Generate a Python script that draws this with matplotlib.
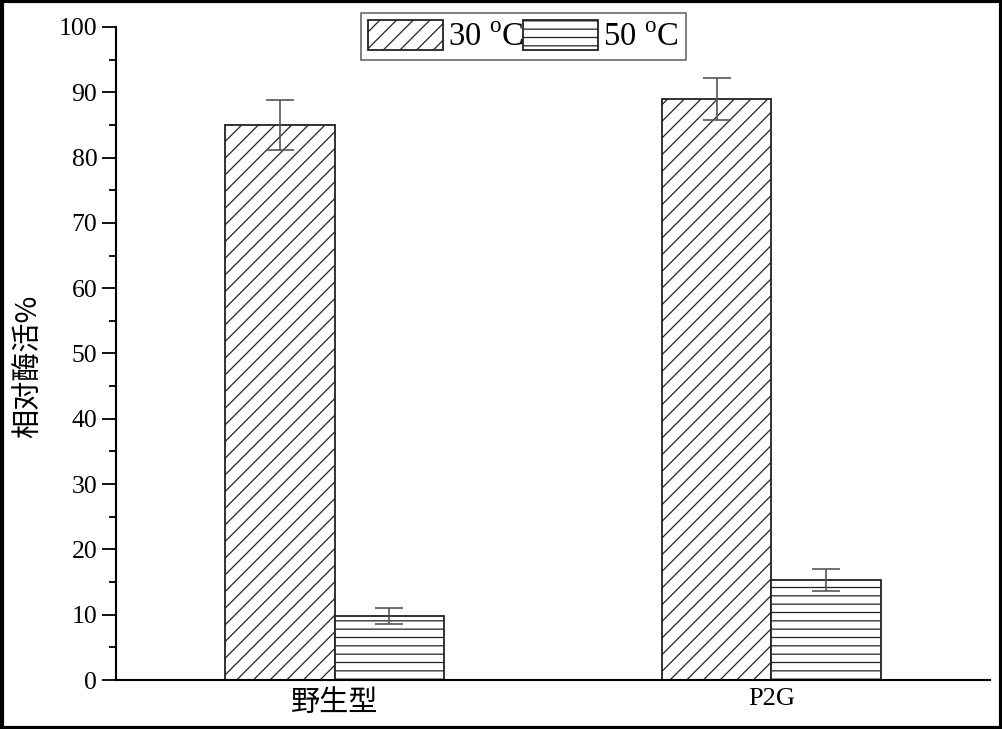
import numpy as np
import matplotlib.pyplot as plt
from matplotlib.patches import Rectangle

# 数据
categories = ['野生型', 'P2G']
series_labels = ['30 $^{\\rm o}$C', '50 $^{\\rm o}$C']
vals_30 = [85.0, 89.0]
err_30 = [3.8, 3.2]
vals_50 = [9.8, 15.3]
err_50 = [1.2, 1.7]

plt.rcParams['font.family'] = ['Liberation Serif', 'Noto Sans CJK SC']
plt.rcParams['mathtext.fontset'] = 'custom'
plt.rcParams['mathtext.rm'] = 'Liberation Serif'
plt.rcParams['hatch.linewidth'] = 0.9
plt.rcParams['hatch.color'] = '#333333'

fig = plt.figure(figsize=(10.03, 7.29), dpi=100)
ax = fig.add_axes([0.1157, 0.0672, 0.8713, 0.8958])

x = np.arange(len(categories))
w = 0.25
ekw = dict(ecolor='#555555', elinewidth=1.2, capsize=10, capthick=1.2)
ax.bar(x - w / 2, vals_30, w, yerr=err_30, facecolor='white', edgecolor='#222222',
       hatch='//', linewidth=1.3, label=series_labels[0], error_kw=ekw)
ax.bar(x + w / 2, vals_50, w, yerr=err_50, facecolor='white', edgecolor='#222222',
       hatch='--', linewidth=1.3, label=series_labels[1], error_kw=ekw)

ax.set_xlim(-0.5, 1.5)
ax.set_ylim(0, 100)
ax.set_xticks(x)
ax.set_xticklabels(categories)
xl = ax.get_xticklabels()
xl[0].set_fontsize(21)
xl[0].set_family(['Noto Sans CJK SC'])
xl[1].set_fontsize(19)
ax.tick_params(axis='x', length=0, pad=6)
ax.set_yticks(np.arange(0, 101, 10))
ax.set_yticks(np.arange(5, 100, 10), minor=True)
ax.tick_params(axis='y', which='major', length=10, width=1.3, labelsize=18.5, direction='out')
ax.tick_params(axis='y', which='minor', length=5, width=1.3, direction='out')
ax.set_ylabel('相对酶活%', fontsize=21, family=['Noto Sans CJK SC'])
ax.yaxis.set_label_coords(-0.082, 0.48)

for s in ['top', 'right']:
    ax.spines[s].set_visible(False)
ax.spines['left'].set_linewidth(1.5)
ax.spines['bottom'].set_linewidth(1.5)

leg = ax.legend(loc='upper center', bbox_to_anchor=(0.466, 1.022), ncol=2, fontsize=23.5,
                frameon=True, fancybox=False, edgecolor='#444444', handlelength=2.3,
                handleheight=1.05, handletextpad=0.15, columnspacing=0.0,
                borderpad=0.22, borderaxespad=0)
leg.get_frame().set_linewidth(1.2)

# 外框
fig.patches.append(Rectangle((0.002, 0.002), 0.996, 0.996, transform=fig.transFigure,
                             fill=False, edgecolor='black', linewidth=3))

fig.savefig('out.png', dpi=100)
